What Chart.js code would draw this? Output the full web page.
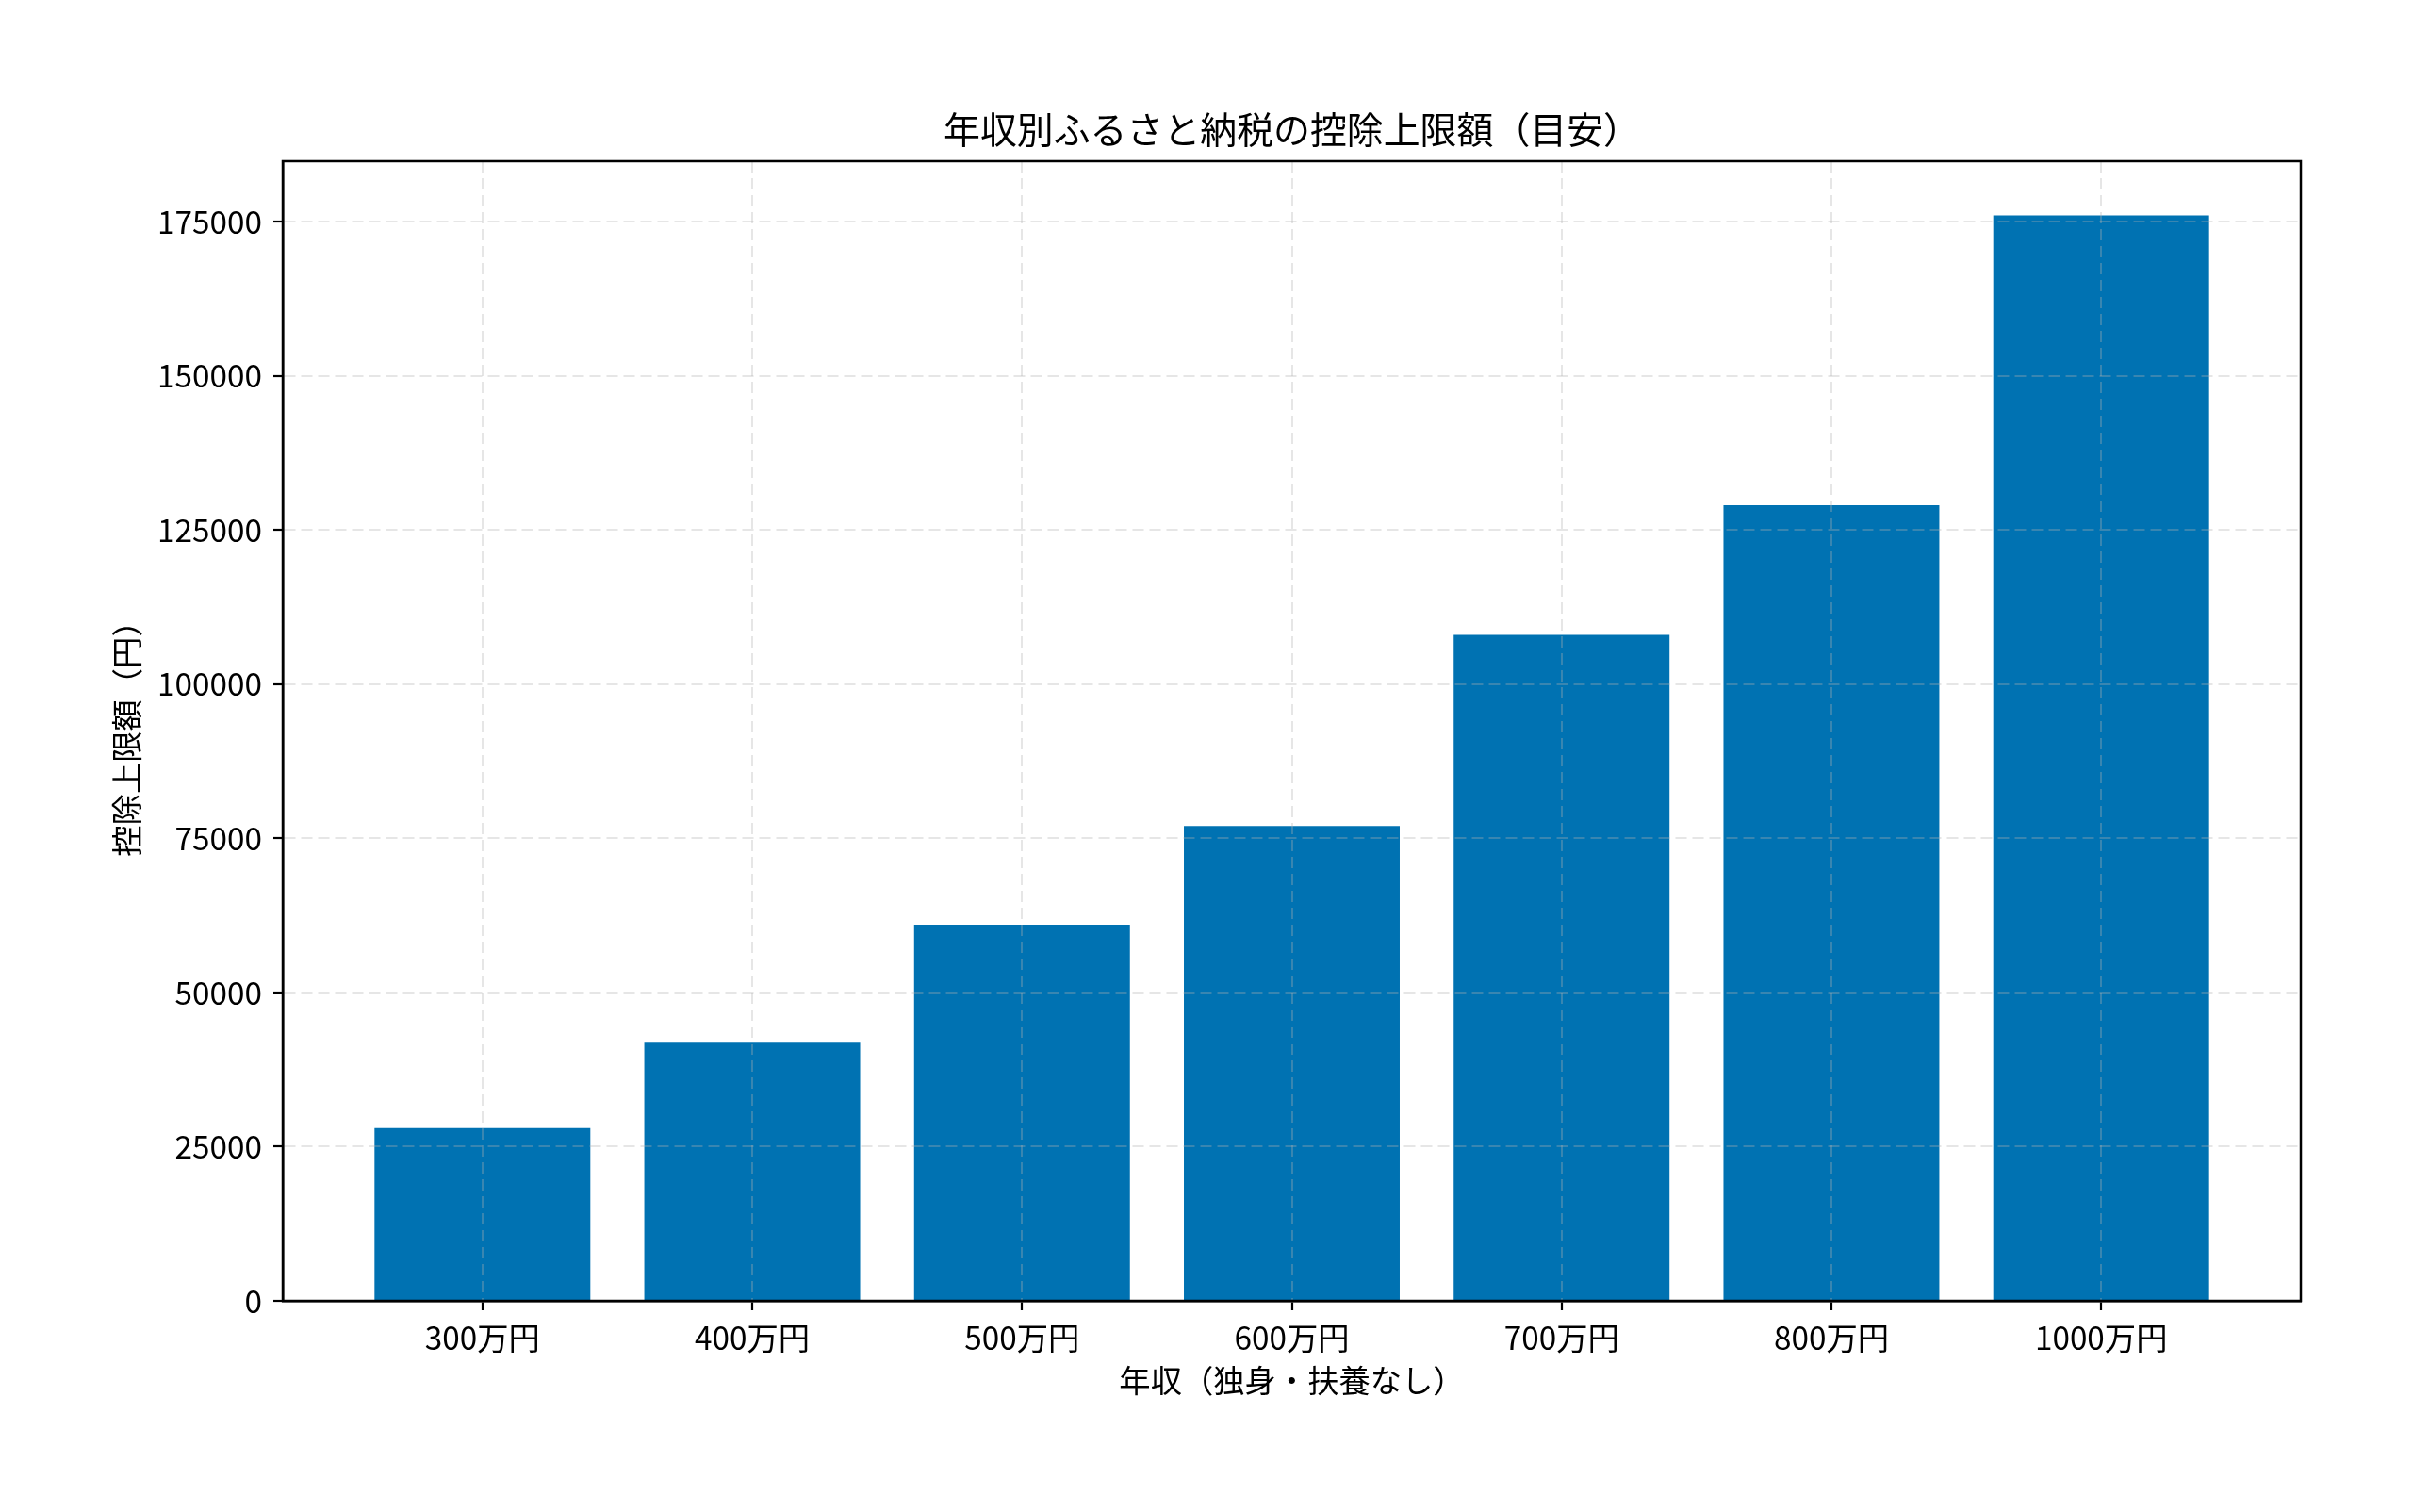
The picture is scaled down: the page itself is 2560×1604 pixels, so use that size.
<!DOCTYPE html>
<html>
<head>
<meta charset="utf-8">
<script src="https://cdn.jsdelivr.net/npm/chart.js@4.4.1/dist/chart.umd.min.js"></script>
<style>
  html, body { margin: 0; padding: 0; background: #fff; }
  canvas { display: block; }
</style>
</head>
<body>
<canvas id="c" width="2560" height="1604"></canvas>
<script>
// ---- data ----
const categories = ['300万円', '400万円', '500万円', '600万円', '700万円', '800万円', '1000万円'];
const deductionLimits = [28000, 42000, 61000, 77000, 108000, 129000, 176000];
const yTickValues = [0, 25000, 50000, 75000, 100000, 125000, 150000, 175000];
const chartTitle = '年収別ふるさと納税の控除上限額（目安）';
const xAxisTitle = '年収（独身・扶養なし）';
const yAxisTitle = '控除上限額（円）';

const FONT = "'Noto Sans CJK JP', 'Noto Sans', sans-serif";
const BAR_COLOR = '#0072B2';
const GRID_COLOR = 'rgba(176,176,176,0.32)';

const framePlugin = {
  id: 'frame',
  afterDraw(chart) {
    const a = chart.chartArea, ctx = chart.ctx;
    ctx.save();
    ctx.setLineDash([]);
    ctx.strokeStyle = '#000';
    ctx.lineWidth = 2.5;
    ctx.strokeRect(a.left, a.top, a.right - a.left, a.bottom - a.top);
    ctx.restore();
  }
};

function build() {
  const ctx = document.getElementById('c').getContext('2d');
  const barWidthUnits = 0.8;
  const xMargin = (categories.length - 1 + barWidthUnits) * 0.05;
  new Chart(ctx, {
    type: 'bar',
    data: {
      datasets: [{
        data: deductionLimits.map((v, i) => ({ x: i, y: v })),
        backgroundColor: BAR_COLOR,
        borderWidth: 0,
        categoryPercentage: 1.0,
        barPercentage: barWidthUnits
      }]
    },
    options: {
      responsive: false,
      animation: false,
      devicePixelRatio: 1,
      layout: { padding: { left: 0, right: 119, top: 0, bottom: 104 } },
      plugins: {
        legend: { display: false },
        tooltip: { enabled: false },
        title: {
          display: true,
          text: chartTitle,
          fullSize: false,
          color: '#000',
          font: { family: FONT, size: 38.9, weight: 'normal', lineHeight: 1.2 },
          padding: { top: 113.7, bottom: 10.6 }
        }
      },
      scales: {
        x: {
          type: 'linear',
          offset: false,
          min: -barWidthUnits / 2 - xMargin,
          max: categories.length - 1 + barWidthUnits / 2 + xMargin,
          afterFit(scale) { scale.height = 120; },
          afterBuildTicks(axis) { axis.ticks = categories.map((_, i) => ({ value: i })); },
          ticks: {
            z: 1,
            autoSkip: false,
            maxRotation: 0,
            minRotation: 0,
            padding: 9,
            color: '#000',
            font: { family: FONT, size: 33.3 },
            callback: (v) => categories[v]
          },
          grid: {
            z: 1,
            offset: false,
            color: GRID_COLOR,
            lineWidth: 2,
            drawTicks: true,
            tickLength: 10,
            tickColor: '#000',
            tickWidth: 2.2,
            tickBorderDash: []
          },
          border: { z: 1, display: true, color: '#000', width: 2.5, dash: [12, 6] },
          title: {
            display: true,
            text: xAxisTitle,
            color: '#000',
            font: { family: FONT, size: 33.3, lineHeight: 1.2 },
            padding: { top: 0, bottom: 16 }
          }
        },
        y: {
          min: 0,
          max: Math.max(...deductionLimits) * 1.05,
          afterFit(scale) { scale.width = 300; },
          afterBuildTicks(axis) { axis.ticks = yTickValues.map(v => ({ value: v })); },
          ticks: {
            z: 1,
            padding: 12,
            color: '#000',
            font: { family: FONT, size: 33.3 },
            callback: (v) => String(v)
          },
          grid: {
            z: 1,
            color: GRID_COLOR,
            lineWidth: 2,
            drawTicks: true,
            tickLength: 10,
            tickColor: '#000',
            tickWidth: 2.2,
            tickBorderDash: []
          },
          border: { z: 1, display: true, color: '#000', width: 2.5, dash: [12, 6] },
          title: {
            display: true,
            text: yAxisTitle,
            color: '#000',
            font: { family: FONT, size: 33.3, lineHeight: 1.2 },
            padding: { top: 114, bottom: 0 }
          }
        }
      }
    },
    plugins: [framePlugin]
  });
}

const fontLoads = [
  document.fonts.load("33px 'Noto Sans CJK JP'", '年収控除0123'),
  document.fonts.load("39px 'Noto Sans CJK JP'", '年収別ふるさと')
];
Promise.all(fontLoads).then(build, build);
</script>
</body>
</html>
